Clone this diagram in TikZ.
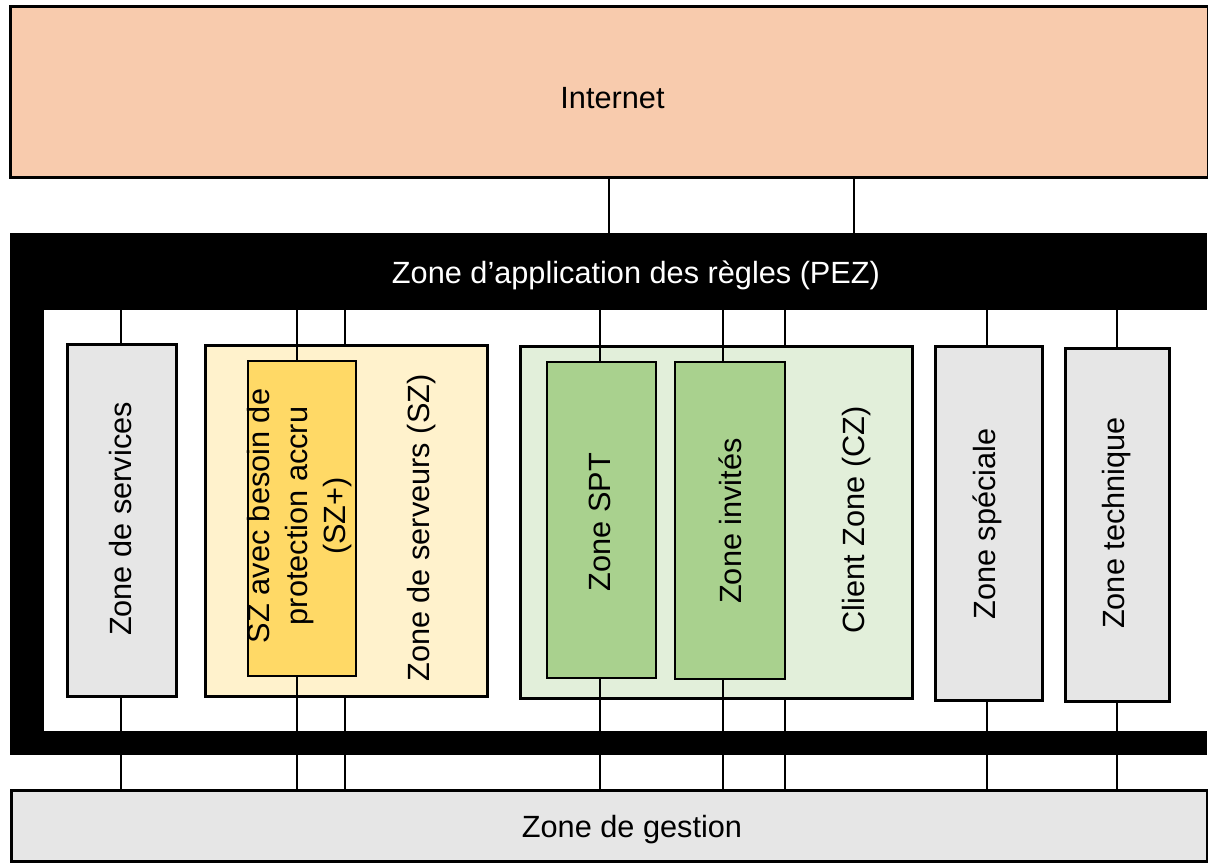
\documentclass[tikz,border=0pt]{standalone}
\usepackage{fontspec}
\setmainfont{Liberation Sans}
\definecolor{inetfill}{HTML}{F8CBAD}
\definecolor{grayfill}{HTML}{E6E6E6}
\definecolor{szfill}{HTML}{FFF2CC}
\definecolor{szpfill}{HTML}{FFD966}
\definecolor{czfill}{HTML}{E2EFDA}
\definecolor{greenfill}{HTML}{A9D18E}
\begin{document}
\begin{tikzpicture}[x=1pt,y=-1pt,
  box/.style={draw=black, line width=3pt, inner sep=0pt, anchor=north west},
  innerbox/.style={draw=black, line width=1.5pt, inner sep=0pt, anchor=north west},
  bar/.style={fill=black, inner sep=0pt, anchor=north west},
  lbl/.style={font=\fontsize{30.7}{38}\selectfont, align=center, inner sep=0pt},
  vlbl/.style={lbl, rotate=90},
  thinline/.style={line width=1.5pt},
  thickline/.style={line width=2.6pt}]
\useasboundingbox (0,0) rectangle (1208,863);

% Internet
\node[box, fill=inetfill, minimum width=1198pt, minimum height=171pt] (internet) at (9,5) {};
\node[lbl, anchor=base] (tinternet) at (612.5,108) {Internet};

% Policy enforcement zone frame
\node[bar, minimum width=1197pt, minimum height=77pt] (pez) at (10,233) {};
\node[bar, minimum width=34pt, minimum height=522pt] (pezl) at (10,233) {};
\node[bar, minimum width=1197pt, minimum height=24pt] (pezb) at (10,731) {};
\node[lbl, anchor=base, text=white] (tpez) at (636,283) {Zone d’application des règles (PEZ)};

% Zone de gestion
\node[box, fill=grayfill, minimum width=1196pt, minimum height=71pt] (gestion) at (10,789) {};
\node[lbl, anchor=base] (tgestion) at (632,837) {Zone de gestion};

% Zone de services
\node[box, fill=grayfill, minimum width=109pt, minimum height=352pt] (services) at (66,343) {};
\node[vlbl] (tservices) at (121,519) {Zone de services};

% Zone de serveurs
\node[box, fill=szfill, minimum width=282pt, minimum height=351pt] (sz) at (204,344) {};
\node[innerbox, fill=szpfill, minimum width=108pt, minimum height=315pt] (szp) at (247,360) {};
\node[vlbl] (tszp) at (300,516) {SZ avec besoin de\\protection accru\\(SZ+)};
\node[vlbl] (tsz) at (422,528) {Zone de serveurs (SZ)};

% Client zone
\node[box, fill=czfill, minimum width=392pt, minimum height=352pt] (cz) at (519,345) {};
\node[innerbox, fill=greenfill, minimum width=109pt, minimum height=316pt] (spt) at (546,361) {};
\node[innerbox, fill=greenfill, minimum width=110pt, minimum height=317pt] (inv) at (674,361) {};
\node[vlbl] (tspt) at (600,522) {Zone SPT};
\node[vlbl] (tinv) at (730,521) {Zone invités};
\node[vlbl] (tcz) at (857,520) {Client Zone (CZ)};

% Zone spéciale, Zone technique
\node[box, fill=grayfill, minimum width=107pt, minimum height=354pt] (spec) at (934,345) {};
\node[vlbl] (tspec) at (987,524) {Zone spéciale};
\node[box, fill=grayfill, minimum width=104pt, minimum height=353pt] (tech) at (1064,347) {};
\node[vlbl] (ttech) at (1117,523) {Zone technique};

% x positions of connectors
\coordinate (xa) at (609,0);
\coordinate (xb) at (854,0);
\coordinate (xs) at (121,0);
\coordinate (xszp) at (297,0);
\coordinate (xsz) at (345,0);
\coordinate (xspt) at (600,0);
\coordinate (xinv) at (723,0);
\coordinate (xcz) at (785,0);
\coordinate (xspec) at (987,0);
\coordinate (xtech) at (1117,0);

% Internet to PEZ
\draw[thinline] (internet.south -| xa) -- (pez.north -| xa);
\draw[thinline] (internet.south -| xb) -- (pez.north -| xb);

% PEZ to zones
\draw[thickline] (pez.south -| xs) -- (services.north -| xs);
\draw[thinline] (pez.south -| xszp) -- (szp.north -| xszp);
\draw[thickline] (pez.south -| xsz) -- (sz.north -| xsz);
\draw[thinline] (pez.south -| xspt) -- (spt.north -| xspt);
\draw[thinline] (pez.south -| xinv) -- (inv.north -| xinv);
\draw[thickline] (pez.south -| xcz) -- (cz.north -| xcz);
\draw[thickline] (pez.south -| xspec) -- (spec.north -| xspec);
\draw[thickline] (pez.south -| xtech) -- (tech.north -| xtech);

% zones to Zone de gestion (through the lower PEZ bar)
\draw[thickline] (services.south -| xs) -- (gestion.north -| xs);
\draw[thinline] (szp.south -| xszp) -- (gestion.north -| xszp);
\draw[thickline] (sz.south -| xsz) -- (gestion.north -| xsz);
\draw[thinline] (spt.south -| xspt) -- (gestion.north -| xspt);
\draw[thinline] (inv.south -| xinv) -- (gestion.north -| xinv);
\draw[thickline] (cz.south -| xcz) -- (gestion.north -| xcz);
\draw[thickline] (spec.south -| xspec) -- (gestion.north -| xspec);
\draw[thickline] (tech.south -| xtech) -- (gestion.north -| xtech);
\end{tikzpicture}
\end{document}
